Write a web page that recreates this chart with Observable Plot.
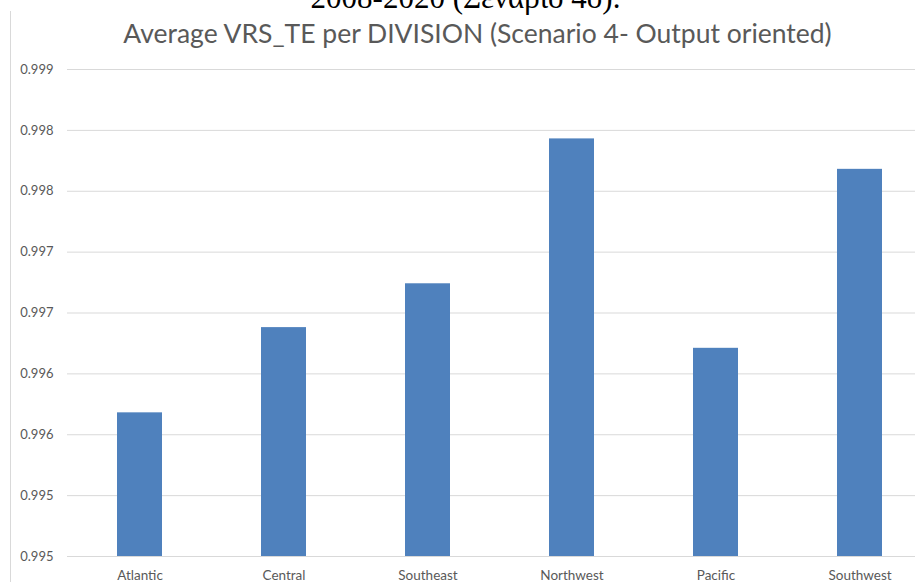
<!DOCTYPE html>
<html>
<head>
<meta charset="utf-8">
<script src="https://cdn.jsdelivr.net/npm/d3@7"></script>
<script src="https://cdn.jsdelivr.net/npm/@observablehq/plot@0.6"></script>
<style>
  html, body { margin: 0; padding: 0; background: #fff; overflow: hidden; }
  #page { position: relative; width: 915px; height: 582px; overflow: hidden; }
  #caption {
    position: absolute; left: 0; width: 915px; top: -18px; text-align: center;
    font-family: "Liberation Serif", "DejaVu Serif", serif; font-size: 31px; line-height: 31px; color: #000;
    padding-left: 16px; box-sizing: border-box; white-space: nowrap;
  }
  #frame { position: absolute; left: 10px; top: 11px; width: 1px; height: 580px; background: #d9d9d9; }
  #title {
    position: absolute; left: 0; top: 16px; width: 915px; text-align: center;
    font-family: Lato, "Open Sans", sans-serif; font-size: 26.5px; line-height: 34px; color: #595959; white-space: nowrap;
    padding-left: 40px; box-sizing: border-box;
  }
  #chart { position: absolute; left: 0; top: 55px; }
</style>
</head>
<body>
<div id="page">
  <div id="caption">2008-2020 (Σενάριο 4ο).</div>
  <div id="frame"></div>
  <div id="title">Average VRS_TE per DIVISION (Scenario 4- Output oriented)</div>
  <div id="chart"></div>
</div>
<script>
// Average VRS technical efficiency per division
const divisions = ["Atlantic", "Central", "Southeast", "Northwest", "Pacific", "Southwest"];
const vrsTE = [0.99618, 0.99688, 0.99724, 0.99843, 0.99671, 0.99818];

// Value-axis ticks and their printed labels
const tickValues = [0.995, 0.9955, 0.996, 0.9965, 0.997, 0.9975, 0.998, 0.9985, 0.999];
const tickLabels = ["0.995", "0.995", "0.996", "0.996", "0.997", "0.997", "0.998", "0.998", "0.999"];

const rows = divisions.map((d, i) => ({division: d, value: vrsTE[i]}));
const base = tickValues[0];

const chart = Plot.plot({
  width: 915,
  height: 527,
  marginLeft: 67,
  marginRight: 0,
  marginTop: 14,
  marginBottom: 26,
  style: {fontFamily: "Lato, 'Open Sans', sans-serif", fontSize: "13px", color: "#595959", background: "transparent"},
  x: {domain: divisions, range: [67, 931], paddingInner: 0.69, paddingOuter: 0.345, label: null},
  y: {domain: [tickValues[0], tickValues[tickValues.length - 1]], label: null},
  marks: [
    Plot.ruleY(tickValues, {stroke: "#d9d9d9", strokeWidth: 1}),
    Plot.rectY(rows, {x: "division", y1: base, y2: "value", fill: "#4f81bd"}),
    Plot.axisY({
      ticks: tickValues,
      tickFormat: (v) => tickLabels[tickValues.indexOf(v)],
      tickSize: 0,
      tickPadding: 14,
      fill: "#595959"
    }),
    Plot.axisX({tickSize: 0, tickPadding: 14, fill: "#595959", fontSize: 13.5})
  ]
});
document.getElementById("chart").appendChild(chart);
</script>
</body>
</html>
